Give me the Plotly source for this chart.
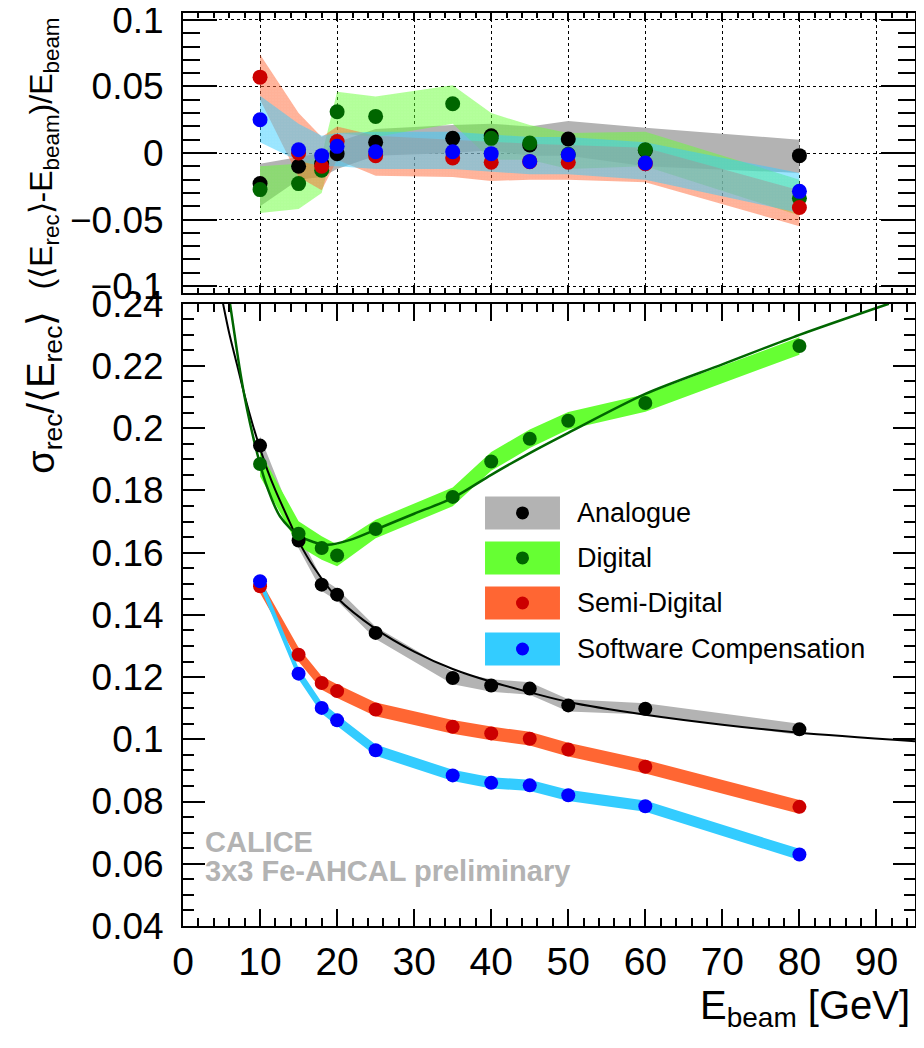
import plotly.graph_objects as go

# ---------------- data ----------------
E = [10, 15, 18, 20, 25, 35, 40, 45, 50, 60, 80]

# top panel: (<E_rec>-E_beam)/E_beam
lin_ana = [-0.023, -0.010, -0.008, -0.0005, 0.008, 0.011, 0.013, 0.006, 0.0105, 0.002, -0.002]
lin_dig = [-0.0275, -0.023, -0.013, 0.031, 0.0275, 0.037, 0.011, 0.0075, -0.001, 0.0025, -0.034]
lin_sd = [0.057, 0.000, -0.010, 0.0087, -0.002, -0.0038, -0.007, -0.0065, -0.007, -0.008, -0.041]
lin_sc = [0.025, 0.0025, -0.002, 0.005, 0.001, 0.001, -0.0005, -0.0063, -0.0013, -0.0075, -0.0288]

# top panel uncertainty bands (low / high edges)
lin_ana_lo = [-0.040, -0.020, -0.018, -0.012, -0.002, 0.000, 0.002, -0.002, -0.002, -0.010, -0.015]
lin_ana_hi = [-0.008, -0.003, 0.000, 0.008, 0.018, 0.021, 0.022, 0.020, 0.024, 0.019, 0.010]
lin_dig_lo = [-0.045, -0.042, -0.030, 0.015, 0.012, 0.022, -0.005, -0.005, -0.012, -0.010, -0.047]
lin_dig_hi = [-0.010, -0.008, -0.002, 0.046, 0.0425, 0.051, 0.030, 0.021, 0.015, 0.016, -0.020]
lin_sd_lo = [0.040, -0.018, -0.028, -0.005, -0.017, -0.018, -0.021, -0.020, -0.020, -0.022, -0.055]
lin_sd_hi = [0.074, 0.030, 0.012, 0.020, 0.013, 0.010, 0.008, 0.007, 0.006, 0.004, -0.028]
lin_sc_lo = [0.008, -0.006, -0.010, -0.010, -0.012, -0.012, -0.014, -0.016, -0.016, -0.020, -0.045]
lin_sc_hi = [0.043, 0.022, 0.013, 0.015, 0.016, 0.016, 0.014, 0.012, 0.012, 0.008, -0.015]

# bottom panel: sigma_rec / <E_rec>
res_ana = [0.1944, 0.1639, 0.1497, 0.1465, 0.1342, 0.1197, 0.1173, 0.1163, 0.1109, 0.1098, 0.1032]
res_dig = [0.1885, 0.1661, 0.1615, 0.1591, 0.1676, 0.1779, 0.1893, 0.1966, 0.2024, 0.2081, 0.2264]
res_sd = [0.1492, 0.1272, 0.1181, 0.1155, 0.1096, 0.1040, 0.1019, 0.1002, 0.0967, 0.0912, 0.0783]
res_sc = [0.1508, 0.1211, 0.1101, 0.1061, 0.0965, 0.0884, 0.0860, 0.0852, 0.0820, 0.0785, 0.0630]

res_ana_err = [0.0030, 0.0025, 0.0020, 0.0020, 0.0020, 0.0020, 0.0020, 0.0020, 0.0020, 0.0018, 0.0018]
res_dig_err = [0.0040, 0.0040, 0.0038, 0.0035, 0.0030, 0.0030, 0.0030, 0.0030, 0.0028, 0.0028, 0.0028]
res_sd_err = [0.0022, 0.0022, 0.0022, 0.0022, 0.0022, 0.0022, 0.0022, 0.0022, 0.0022, 0.0022, 0.0022]
res_sc_err = [0.0018, 0.0018, 0.0018, 0.0018, 0.0018, 0.0018, 0.0018, 0.0018, 0.0018, 0.0018, 0.0018]

# fit curves
fit_ana_E = [5.2, 6.0, 7.0, 8.0, 9.0, 10.0, 11.0, 12.0, 13.5, 15.0, 17.0, 20.0, 25.0, 30.0,
             35.0, 40.0, 45.0, 50.0, 60.0, 70.0, 80.0, 95.0]
fit_ana_v = [0.240, 0.2305, 0.2205, 0.2105, 0.2015, 0.1935, 0.1862, 0.1800, 0.1717, 0.1637,
             0.1552, 0.1455, 0.1355, 0.1282, 0.1226, 0.1185, 0.1151, 0.1120, 0.1079, 0.1047,
             0.1021, 0.0994]
fit_dig_E = [6.1, 6.7, 7.3, 8.0, 8.7, 9.7, 10.7, 12.6, 15.2, 18.7, 21.7, 25.2, 30.0, 35.1,
             40.0, 45.0, 50.0, 60.0, 70.0, 80.0, 91.6]
fit_dig_v = [0.240, 0.2300, 0.2200, 0.2100, 0.2016, 0.1912, 0.1826, 0.1716, 0.1652, 0.1625,
             0.1641, 0.1676, 0.1725, 0.1777, 0.1850, 0.1920, 0.1985, 0.2110, 0.2205, 0.2300,
             0.2400]

labels = ["Analogue", "Digital", "Semi-Digital", "Software Compensation"]
band_cols = ["#b3b3b3", "#66ff33", "#ff6633", "#33ccff"]
mark_cols = ["#000000", "#006600", "#cc0000", "#0000ff"]

FONT = "Liberation Sans, Arial, Helvetica, sans-serif"

fig = go.Figure()

# ---------------- top panel bands ----------------
top_bands = [(lin_ana_lo, lin_ana_hi), (lin_dig_lo, lin_dig_hi),
             (lin_sd_lo, lin_sd_hi), (lin_sc_lo, lin_sc_hi)]
for i, (lo, hi) in enumerate(top_bands):
    if i == 0:
        fig.add_trace(go.Scatter(x=E + E[::-1], y=hi + lo[::-1], fill="toself",
                                 fillcolor=band_cols[i], line=dict(width=0),
                                 mode="lines", hoverinfo="skip", showlegend=False,
                                 xaxis="x2", yaxis="y2"))
    else:
        fig.add_trace(go.Scatter(x=E + E[::-1], y=hi + lo[::-1], fill="toself",
                                 fillcolor="rgba(0,0,0,0)",
                                 fillpattern=dict(shape=".", fgcolor=band_cols[i],
                                                  bgcolor="rgba(0,0,0,0)", size=3,
                                                  solidity=0.9),
                                 line=dict(width=0), mode="lines", hoverinfo="skip",
                                 showlegend=False, xaxis="x2", yaxis="y2"))

for vals, col in zip([lin_ana, lin_dig, lin_sd, lin_sc], mark_cols):
    fig.add_trace(go.Scatter(x=E, y=vals, mode="markers",
                             marker=dict(color=col, size=15, line=dict(width=0)),
                             showlegend=False, xaxis="x2", yaxis="y2"))

# ---------------- bottom panel ----------------
for vals, err, col in zip([res_ana, res_dig, res_sd, res_sc],
                          [res_ana_err, res_dig_err, res_sd_err, res_sc_err], band_cols):
    hi = [v + e for v, e in zip(vals, err)]
    lo = [v - e for v, e in zip(vals, err)]
    fig.add_trace(go.Scatter(x=E + E[::-1], y=hi + lo[::-1], fill="toself",
                             fillcolor=col, line=dict(width=0, color=col), mode="lines",
                             hoverinfo="skip", showlegend=False))

fig.add_trace(go.Scatter(x=fit_ana_E, y=fit_ana_v, mode="lines",
                         line=dict(color="black", width=2, shape="spline", smoothing=0.8),
                         showlegend=False))
fig.add_trace(go.Scatter(x=fit_dig_E, y=fit_dig_v, mode="lines",
                         line=dict(color="#006600", width=2.5, shape="spline", smoothing=0.8),
                         showlegend=False))

for vals, col in zip([res_ana, res_dig, res_sd, res_sc], mark_cols):
    fig.add_trace(go.Scatter(x=E, y=vals, mode="markers",
                             marker=dict(color=col, size=14, line=dict(width=0)),
                             showlegend=False))

# ---------------- legend (drawn) ----------------
shapes = []
annotations = []
row_y = [0.4524, 0.4031, 0.3538, 0.3034]
bx0, bx1 = 0.4126, 0.515
bh = 0.0361
dotw, doth = 13 / 732, 13 / 913
for ry, bc, mc, lab in zip(row_y, band_cols, mark_cols, labels):
    shapes.append(dict(type="rect", xref="paper", yref="paper", x0=bx0, x1=bx1,
                       y0=ry - bh / 2, y1=ry + bh / 2, fillcolor=bc, line=dict(width=0),
                       layer="above"))
    cx = (bx0 + bx1) / 2
    shapes.append(dict(type="circle", xref="paper", yref="paper",
                       x0=cx - dotw / 2, x1=cx + dotw / 2, y0=ry - doth / 2, y1=ry + doth / 2,
                       fillcolor=mc, line=dict(width=0), layer="above"))
    annotations.append(dict(xref="paper", yref="paper", x=0.5355, y=ry, text=lab,
                            showarrow=False, xanchor="left", yanchor="middle",
                            font=dict(family=FONT, size=27, color="black")))

annotations += [
    dict(xref="paper", yref="paper", x=0.028, y=0.092, text="<b>CALICE</b>",
         showarrow=False, xanchor="left", yanchor="middle",
         font=dict(family=FONT, size=29, color="#b3b3b3")),
    dict(xref="paper", yref="paper", x=0.028, y=0.060,
         text="<b>3x3 Fe-AHCAL preliminary</b>",
         showarrow=False, xanchor="left", yanchor="middle",
         font=dict(family=FONT, size=29, color="#b3b3b3")),
    dict(xref="paper", yref="paper", x=0.996, y=-0.090,
         text="E<sub>beam</sub> [GeV]", showarrow=False, xanchor="right", yanchor="middle",
         font=dict(family=FONT, size=40, color="black")),
    dict(xref="paper", yref="paper", x=-0.19, y=0.585, textangle=-90,
         text="σ<sub>rec</sub>/⟨E<sub>rec</sub>⟩", showarrow=False,
         xanchor="center", yanchor="middle",
         font=dict(family=FONT, size=38, color="black")),
    dict(xref="paper", yref="paper", x=-0.19, y=0.846, textangle=-90,
         text="(⟨E<sub>rec</sub>⟩-E<sub>beam</sub>)/E<sub>beam</sub>", showarrow=False,
         xanchor="center", yanchor="middle",
         font=dict(family=FONT, size=32, color="black")),
]

axis_common = dict(showline=True, linecolor="black", linewidth=2, mirror="ticks",
                   ticks="inside", tickcolor="black", tickwidth=2, zeroline=False,
                   automargin=False)

# the page body adds an 8 px offset, so margins are reduced by 8 px on left/top
fig.update_layout(
    width=916, height=1040,
    margin=dict(l=175, r=9, t=5, b=122, autoexpand=False),
    paper_bgcolor="white", plot_bgcolor="white",
    showlegend=False,
    shapes=shapes, annotations=annotations,
    xaxis=dict(domain=[0, 1], range=[0, 95], anchor="y", dtick=10, tick0=0,
               ticklen=17, showgrid=False,
               minor=dict(dtick=2, ticklen=8, ticks="inside", tickcolor="black",
                          tickwidth=2, showgrid=False),
               tickfont=dict(family=FONT, size=39, color="black"),
               ticklabelstandoff=0, ticklabeloverflow="allow", **axis_common),
    yaxis=dict(domain=[0, 0.6816], range=[0.04, 0.24], anchor="x", dtick=0.02, tick0=0,
               ticklen=22, showgrid=False, tickformat="~g",
               minor=dict(dtick=0.005, ticklen=11, ticks="inside", tickcolor="black",
                          tickwidth=2, showgrid=False),
               tickfont=dict(family=FONT, size=37, color="black"),
               ticklabelstandoff=10, ticklabeloverflow="allow", **axis_common),
    xaxis2=dict(domain=[0, 1], range=[0, 95], anchor="y2", dtick=10, tick0=0,
                ticklen=8, showticklabels=False, showgrid=True, gridcolor="black",
                griddash="dot", gridwidth=1,
                minor=dict(dtick=2, ticklen=5, ticks="inside", tickcolor="black",
                           tickwidth=2, showgrid=False),
                **axis_common),
    yaxis2=dict(domain=[0.6933, 1], range=[-0.1052, 0.1052], anchor="x2", dtick=0.05,
                tick0=0, ticklen=34, showgrid=True, gridcolor="black", griddash="dot",
                gridwidth=1, tickformat="~g",
                minor=dict(dtick=0.01, ticklen=17, ticks="inside", tickcolor="black",
                           tickwidth=2, showgrid=False),
                tickfont=dict(family=FONT, size=37, color="black"),
                ticklabelstandoff=10, ticklabeloverflow="allow", **axis_common),
)

fig.write_html("out.html")
